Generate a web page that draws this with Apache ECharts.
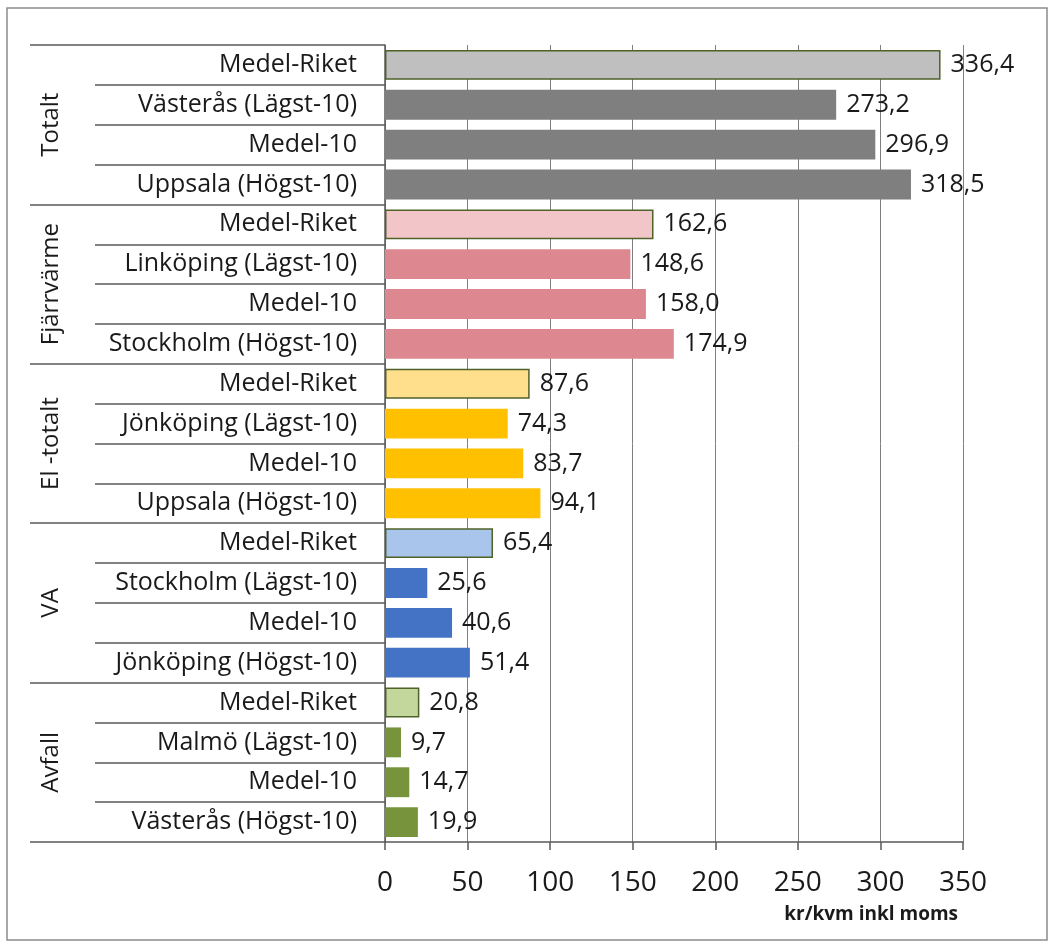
<!DOCTYPE html>
<html><head><meta charset="utf-8">
<script src="https://cdn.jsdelivr.net/npm/echarts@6/dist/echarts.min.js"></script>
<style>html,body{margin:0;padding:0;background:#fff}#c{width:1052px;height:947px}</style>
</head><body><div id="c"></div>
<script>
const groups = ['Totalt', 'Fjärrvärme', 'El -totalt', 'VA', 'Avfall'];
const categories = [
  'Medel-Riket', 'Västerås (Lägst-10)', 'Medel-10', 'Uppsala (Högst-10)',
  'Medel-Riket', 'Linköping (Lägst-10)', 'Medel-10', 'Stockholm (Högst-10)',
  'Medel-Riket', 'Jönköping (Lägst-10)', 'Medel-10', 'Uppsala (Högst-10)',
  'Medel-Riket', 'Stockholm (Lägst-10)', 'Medel-10', 'Jönköping (Högst-10)',
  'Medel-Riket', 'Malmö (Lägst-10)', 'Medel-10', 'Västerås (Högst-10)'
];
const values = [
  336.4, 273.2, 296.9, 318.5,
  162.6, 148.6, 158.0, 174.9,
  87.6, 74.3, 83.7, 94.1,
  65.4, 25.6, 40.6, 51.4,
  20.8, 9.7, 14.7, 19.9
];
const xTicks = [0, 50, 100, 150, 200, 250, 300, 350];

// styles
const lightColors = ['#bfbfbf', '#f2c5c9', '#ffdf8c', '#a9c5ec', '#c3d69b'];
const darkColors = ['#7f7f7f', '#dd8890', '#ffc000', '#4472c4', '#77933c'];
const FONT = 'Open Sans';

const data = values.map((v, i) => {
  const g = Math.floor(i / 4);
  const isRiket = i % 4 === 0;
  return {
    value: v,
    itemStyle: isRiket
      ? { color: lightColors[g], borderColor: '#4f6228', borderWidth: 1.5 }
      : { color: darkColors[g] }
  };
});

const chart = echarts.init(document.getElementById('c'), null, { renderer: 'canvas' });
chart.setOption({
  animation: false,
  backgroundColor: '#fff',
  textStyle: { fontFamily: FONT },
  grid: { left: 385, right: 89, top: 45, bottom: 105, containLabel: false },
  xAxis: {
    type: 'value', min: xTicks[0], max: xTicks[xTicks.length - 1], interval: 50,
    axisLine: { show: true, lineStyle: { color: '#595959', width: 1.5 } },
    axisTick: { show: true, length: 8, lineStyle: { color: '#595959', width: 1.5 } },
    axisLabel: { fontSize: 28, color: '#1a1a1a', margin: 27, fontFamily: FONT },
    splitLine: { show: true, lineStyle: { color: '#7f7f7f', width: 1 } }
  },
  yAxis: [
    {
      type: 'category', data: categories, inverse: true, position: 'left',
      axisLine: { show: true, lineStyle: { color: '#595959', width: 1.5 } },
      axisTick: { show: true, length: 290, lineStyle: { color: '#595959', width: 1.5 } },
      axisLabel: { fontSize: 25, color: '#1a1a1a', margin: 28, fontFamily: FONT }
    },
    {
      type: 'category', data: groups, inverse: true, position: 'left', offset: 0,
      axisLine: { show: false },
      axisTick: { show: true, length: 355, lineStyle: { color: '#595959', width: 1.5 } },
      axisLabel: { fontSize: 24, color: '#1a1a1a', rotate: 90, margin: 322, fontFamily: FONT, align: 'center' }
    }
  ],
  series: [{
    type: 'bar', yAxisIndex: 0, data: data, barCategoryGap: '25%',
    label: {
      show: true, position: 'right', distance: 10, fontSize: 25, color: '#1a1a1a', fontFamily: FONT,
      formatter: p => p.value.toFixed(1).replace('.', ',')
    }
  }],
  graphic: [
    { type: 'rect', shape: { x: 7, y: 8, width: 1040, height: 932 }, style: { fill: 'none', stroke: '#8c8c8c', lineWidth: 1.5 }, silent: true },
    { type: 'text', right: 94, top: 905, style: { text: 'kr/kvm inkl moms', font: 'bold 19px "Open Sans"', fill: '#1a1a1a' } }
  ]
});
</script></body></html>
